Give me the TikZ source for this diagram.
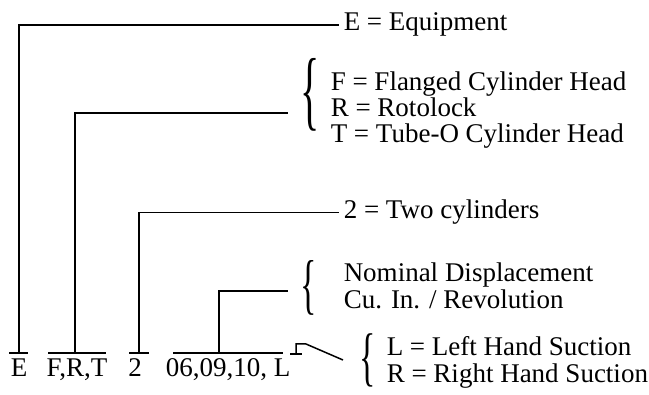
\documentclass[tikz,border=0pt]{standalone}
\usepackage{fontspec}
\setmainfont{Liberation Serif}
\usepackage{graphicx}
\usetikzlibrary{positioning,calc}

\tikzset{
  txt/.style={font=\fontsize{27}{27}\selectfont, inner sep=0pt, anchor=base west},
  code/.style={font=\fontsize{27}{27}\selectfont, inner sep=0pt, anchor=base},
  curly/.style={inner sep=0pt}
}
% tall curly brace: #1 font size, #2 vertical stretch
\newcommand{\tallcurly}[2]{\scalebox{1}[#2]{\fontsize{#1}{#1}\selectfont\{}}

\begin{document}
\begin{tikzpicture}[x=1pt, y=-1pt, line width=1.5pt]
\useasboundingbox (0,0) rectangle (649,395);
% codes along the bottom, each with its underline
\foreach \nm/\x/\lab/\a/\b in {cE/19/E/9/28, cF/77/{F,R,T}/48/106,
                               cN/135/2/129/149, cD/228/{06,09,10, L}/173/283}{
  \node[code] (\nm) at (\x,377) {\lab};
  \draw (\a,353) -- (\b,353);
}
\coordinate (sE) at (19,353);
\coordinate (sF) at (75,353);
\coordinate (sN) at (139,353);
\coordinate (sD) at (219,353);

% right hand texts
\node[txt] (eq) at (343,31) {E = Equipment};
\foreach \nm/\y/\lab in {hF/91/{F = Flanged Cylinder Head}, hR/117/{R = Rotolock},
                         hT/143/{T = Tube-O Cylinder Head}}{
  \node[txt] (\nm) at (330,\y) {\lab};
}
\node[txt] (two) at (343,219) {2 = Two cylinders};
\node[txt] (nom) at (343,282) {Nominal Displacement};
\node[txt] (cu) at (343,309) {Cu. In. / Revolution};
\node[txt] (lh) at (386,356) {L = Left Hand Suction};
\node[txt] (rh) at (386,383) {R = Right Hand Suction};

% braces
\node[curly] (brF) at (310,95) {\tallcurly{40}{2.2}};
\node[curly] (brD) at (309,288) {\tallcurly{34}{1.95}};
\node[curly] (brL) at (368,360) {\tallcurly{34}{1.9}};

% leader lines
\coordinate (eF) at (288,113);
\coordinate (eD) at (288,291);
\draw (sE) |- ([xshift=-4pt]eq.west);
\draw (sF) |- (eF);
\draw (sN) |- ([xshift=-4pt]two.west);
\draw (sD) |- (eD);

% hand mark
\coordinate (m1) at (290,354);
\coordinate (m2) at (302,354);
\coordinate (m3) at (296,354);
\coordinate (m4) at (296,344);
\coordinate (m5) at (306,344);
\coordinate (m6) at (343,360);
\draw (m1) -- (m2);
\draw (m3) -- (m4) -- (m5) -- (m6);
\end{tikzpicture}
\end{document}
